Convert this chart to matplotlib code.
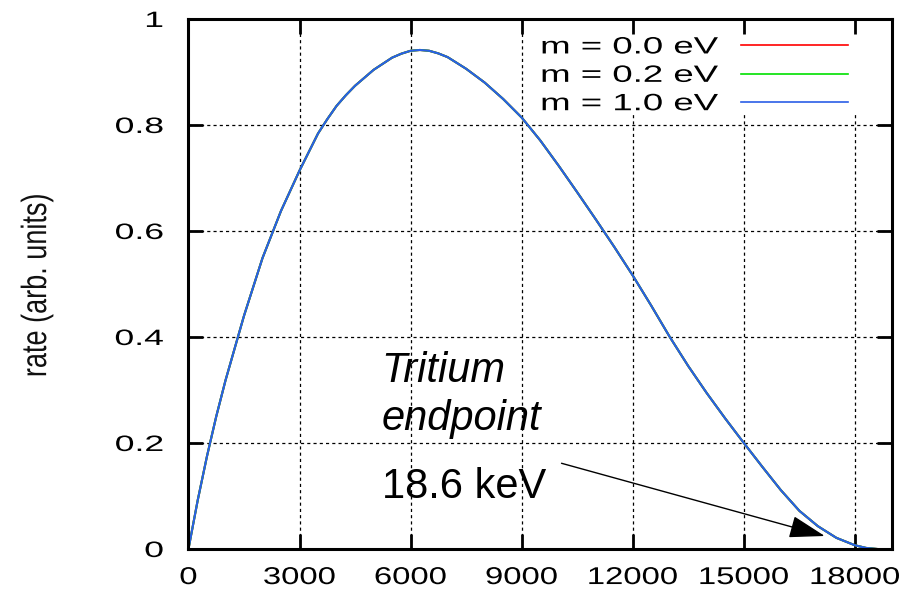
import matplotlib
matplotlib.use("Agg")
import matplotlib.pyplot as plt
from matplotlib.patheffects import AbstractPathEffect
from matplotlib.transforms import Affine2D
from matplotlib.patches import Rectangle

# Tritium beta spectrum, electron kinetic energy in eV
energy_ev = [0, 250, 500, 750, 1000, 1500, 2000, 2500, 3000, 3500, 3750,
             4000, 4250, 4500, 5000, 5500, 5750, 6000, 6250, 6500, 6750,
             7000, 7500, 8000, 8500, 9000, 9500, 10000, 10500, 11000, 11500,
             12000, 12500, 13000, 13500, 14000, 14500, 15000, 15500, 16000,
             16500, 17000, 17500, 18000, 18300, 18600]

rate_m00 = [0.0, 0.092, 0.175, 0.250, 0.318, 0.440, 0.549, 0.638, 0.714,
            0.784, 0.811, 0.836, 0.856, 0.874, 0.904, 0.927, 0.9345, 0.940,
            0.9415, 0.940, 0.935, 0.928, 0.906, 0.880, 0.849, 0.814, 0.771,
            0.723, 0.673, 0.622, 0.570, 0.516, 0.459, 0.400, 0.345, 0.294,
            0.246, 0.200, 0.155, 0.111, 0.072, 0.043, 0.021, 0.007, 0.002,
            0.0]
rate_m02 = [0.0, 0.092, 0.175, 0.250, 0.318, 0.440, 0.549, 0.638, 0.714,
            0.784, 0.811, 0.836, 0.856, 0.874, 0.904, 0.927, 0.9345, 0.940,
            0.9415, 0.940, 0.935, 0.928, 0.906, 0.880, 0.849, 0.814, 0.771,
            0.723, 0.673, 0.622, 0.570, 0.516, 0.459, 0.400, 0.345, 0.294,
            0.246, 0.200, 0.155, 0.111, 0.072, 0.043, 0.021, 0.007, 0.002,
            0.0]
rate_m10 = [0.0, 0.092, 0.175, 0.250, 0.318, 0.440, 0.549, 0.638, 0.714,
            0.784, 0.811, 0.836, 0.856, 0.874, 0.904, 0.927, 0.9345, 0.940,
            0.9415, 0.940, 0.935, 0.928, 0.906, 0.880, 0.849, 0.814, 0.771,
            0.723, 0.673, 0.622, 0.570, 0.516, 0.459, 0.400, 0.345, 0.294,
            0.246, 0.200, 0.155, 0.111, 0.072, 0.043, 0.021, 0.007, 0.002,
            0.0]

series_labels = ["m = 0.0 eV", "m = 0.2 eV", "m = 1.0 eV"]
series_colors = ["#ff0000", "#00e000", "#2a5ee6"]

x_ticks = [0, 3000, 6000, 9000, 12000, 15000, 18000]
y_ticks = [0, 0.2, 0.4, 0.6, 0.8, 1.0]
y_tick_labels = ["0", "0.2", "0.4", "0.6", "0.8", "1"]


class Stretch(AbstractPathEffect):
    """Scale glyph outlines about an anchor of the text line."""

    def __init__(self, sx=1.0, sy=1.0, anchor="center"):
        super().__init__()
        self.sx, self.sy, self.anchor = sx, sy, anchor

    def draw_path(self, renderer, gc, tpath, affine, rgbFace=None):
        ext = tpath.get_extents()
        ax0 = {"left": ext.x0, "right": ext.x1,
               "center": 0.5 * (ext.x0 + ext.x1)}[self.anchor]
        ay0 = 0.5 * (ext.y0 + ext.y1)
        t = (Affine2D().translate(-ax0, -ay0)
             .scale(self.sx, self.sy).translate(ax0, ay0))
        renderer.draw_path(gc, tpath, t + affine, rgbFace)


plt.rcParams["font.family"] = ["Liberation Sans", "DejaVu Sans"]

fig = plt.figure(figsize=(9.18, 5.91), dpi=100)
ax = fig.add_axes([0.2053, 0.0711, 0.7663, 0.8968])

ax.set_xlim(0, 19000)
ax.set_ylim(0, 1)

# dotted grid, kept behind everything
for xv in x_ticks[1:]:
    ax.axvline(xv, color="black", lw=0.9, ls=(0, (2.5, 2.5)), zorder=0.5)
for yv in y_ticks[1:-1]:
    ax.axhline(yv, color="black", lw=0.9, ls=(0, (2.5, 2.5)), zorder=0.5)

# opaque key area
ax.add_patch(Rectangle((0.485, 0.819), 0.515, 0.181, transform=ax.transAxes,
                       facecolor="white", edgecolor="none", zorder=0.7))

lines = []
for vals, lab, col in zip([rate_m00, rate_m02, rate_m10], series_labels,
                          series_colors):
    ln, = ax.plot(energy_ev, vals, color=col, lw=1.5, label=lab, zorder=2,
                  solid_joinstyle="round")
    lines.append(ln)

ax.set_xticks(x_ticks)
ax.set_xticklabels([str(v) for v in x_ticks])
ax.set_yticks(y_ticks)
ax.set_yticklabels(y_tick_labels)

ax.tick_params(direction="in", length=11, width=2, top=True, right=True,
               colors="black")
ax.tick_params(axis="x", labelsize=17.5, pad=13)
ax.tick_params(axis="y", labelsize=16, pad=18)
for sp in ax.spines.values():
    sp.set_linewidth(2.2)

for t in ax.get_xticklabels():
    t.set_path_effects([Stretch(sx=1.35, anchor="center")])
for t in ax.get_yticklabels():
    t.set_path_effects([Stretch(sx=1.6, anchor="right")])

ylab = fig.text(37 / 918, 1 - 285 / 591, "rate (arb. units)", rotation=90,
                ha="center", va="center", fontsize=19.5, color="#111111")
ylab.set_path_effects([Stretch(sy=1.3, anchor="center")])

leg = ax.legend(handles=lines, loc="upper right",
                bbox_to_anchor=(0.9375, 0.967), frameon=False,
                markerfirst=False, handlelength=4.53, handletextpad=0.97,
                labelspacing=0.27, borderpad=0, borderaxespad=0,
                prop={"family": "Liberation Sans", "size": 17})
for t in leg.get_texts():
    t.set_path_effects([Stretch(sx=1.55, anchor="right")])
for h in leg.get_lines():
    h.set_linewidth(1.2)

# endpoint annotation
ax.text(5216, 0.3157, "Tritium", style="italic", fontsize=30,
        ha="left", va="baseline")
ax.text(5216, 0.2245, "endpoint", style="italic", fontsize=30,
        ha="left", va="baseline")
ax.text(5216, 0.0957, "18.6 keV", fontsize=30, ha="left", va="baseline")
ax.annotate("", xy=(17185, 0.0245), xytext=(10076, 0.1617),
            arrowprops=dict(arrowstyle="-|>,head_length=1.6,head_width=0.5",
                            mutation_scale=14, lw=1, color="black",
                            shrinkA=0, shrinkB=0))

fig.savefig("out.png", dpi=100, facecolor="white")
